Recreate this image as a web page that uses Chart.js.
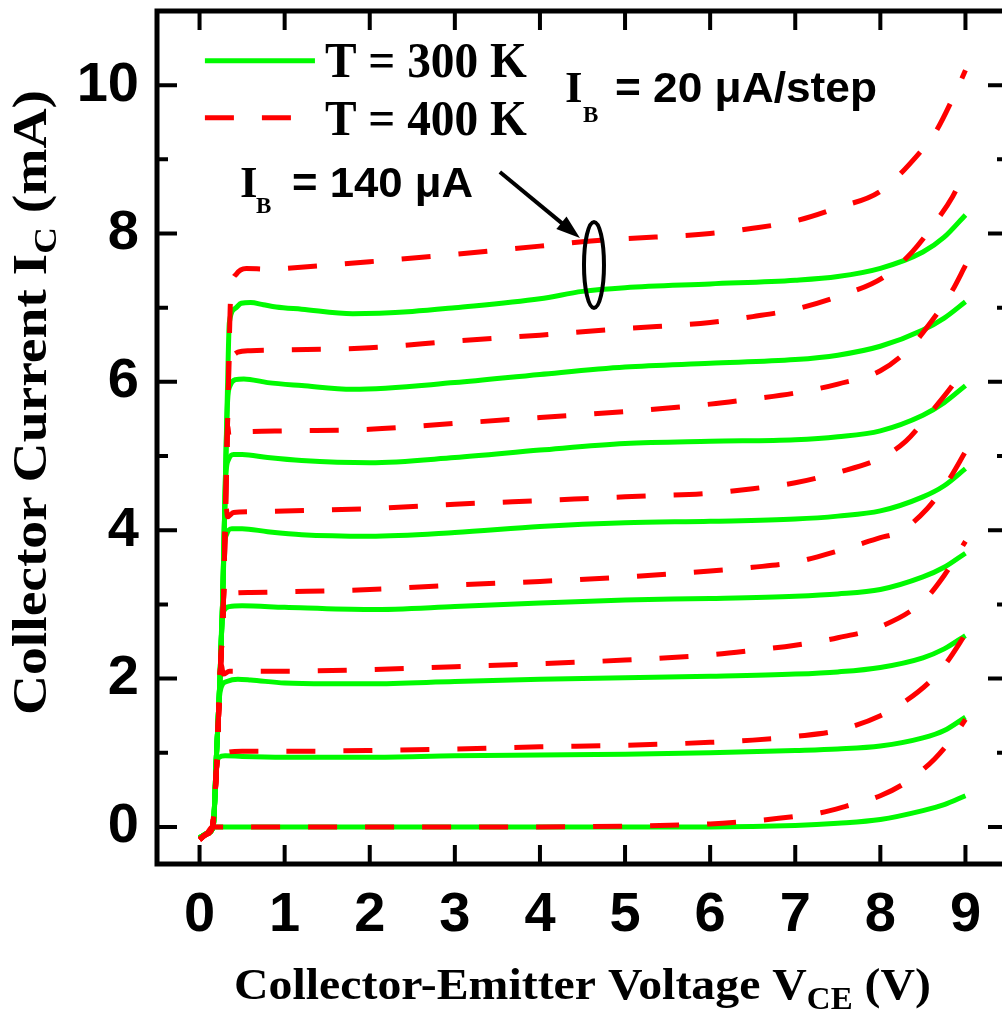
<!DOCTYPE html>
<html>
<head>
<meta charset="utf-8">
<script src="https://cdn.jsdelivr.net/npm/chart.js@4.4.1/dist/chart.umd.min.js"></script>
<style>
  html, body { margin: 0; padding: 0; overflow: hidden; background: #fff; }
  #chart { display: block; }
</style>
</head>
<body>
<canvas id="chart" width="1010" height="1010"></canvas>
<script>
// tick values
const xTicks = [0, 1, 2, 3, 4, 5, 6, 7, 8, 9];
const yTicks = [0, 1, 2, 3, 4, 5, 6, 7, 8, 9, 10];

// base current of each curve (uA), 20 uA/step
const ibSteps = [0, 20, 40, 60, 80, 100, 120, 140];

// T = 300 K, [V_CE (V), I_C (mA)]
const g0 = [[0,-0.15],[0.1,-0.08],[0.16,0],[0.5,0],[2,0],[4,0],[6,0],[7,0.02],[7.5,0.05],[8,0.1],[8.5,0.22],[8.75,0.3],[9,0.42]];
const g20 = [[0,-0.15],[0.1,-0.08],[0.16,0],[0.2,0.8],[0.23,0.94],[0.3,0.96],[0.5,0.95],[1,0.94],[2,0.94],[3,0.96],[4,0.97],[5,0.98],[6,1.0],[7,1.03],[7.5,1.05],[8,1.09],[8.5,1.2],[8.75,1.3],[9,1.48]];
const g40 = [[0,-0.15],[0.1,-0.08],[0.16,0],[0.2,1],[0.23,1.7],[0.26,1.9],[0.32,1.96],[0.45,1.99],[0.6,1.98],[1,1.94],[1.5,1.93],[2,1.93],[3,1.96],[4,1.99],[5,2.01],[6,2.03],[7,2.06],[7.5,2.09],[8,2.15],[8.5,2.28],[8.75,2.4],[9,2.58]];
const g60 = [[0,-0.15],[0.1,-0.08],[0.16,0],[0.2,1],[0.24,2],[0.26,2.7],[0.29,2.92],[0.35,2.97],[0.5,2.98],[1,2.96],[2,2.93],[3,2.97],[4,3.02],[5,3.06],[6,3.08],[7,3.11],[7.5,3.14],[8,3.2],[8.5,3.37],[8.75,3.5],[9,3.69]];
const g80 = [[0,-0.15],[0.1,-0.08],[0.16,0],[0.2,1],[0.24,2],[0.27,3],[0.29,3.75],[0.32,3.95],[0.38,4.02],[0.5,4.02],[0.8,3.98],[1.2,3.94],[2,3.92],[3,3.97],[4,4.05],[5,4.1],[6,4.12],[7,4.15],[7.5,4.19],[8,4.26],[8.5,4.45],[8.75,4.6],[9,4.83]];
const g100 = [[0,-0.15],[0.1,-0.08],[0.16,0],[0.2,1],[0.24,2],[0.27,3],[0.29,4],[0.31,4.75],[0.34,4.95],[0.4,5.02],[0.5,5.02],[0.8,4.98],[1.2,4.94],[2,4.91],[3,4.98],[4,5.08],[5,5.17],[6,5.2],[7,5.22],[7.5,5.26],[8,5.34],[8.5,5.55],[8.75,5.72],[9,5.95]];
const g120 = [[0,-0.15],[0.1,-0.08],[0.16,0],[0.2,1],[0.24,2],[0.27,3],[0.29,4],[0.31,5],[0.33,5.75],[0.36,5.95],[0.42,6.03],[0.52,6.04],[0.8,5.99],[1.2,5.95],[1.8,5.9],[3,5.99],[4,6.1],[5,6.2],[6,6.25],[7,6.3],[7.5,6.36],[8,6.48],[8.5,6.7],[8.75,6.86],[9,7.08]];
const g140 = [[0,-0.15],[0.1,-0.08],[0.16,0],[0.2,1],[0.24,2],[0.27,3],[0.29,4],[0.31,5],[0.33,6],[0.35,6.8],[0.42,6.99],[0.49,7.06],[0.6,7.07],[0.75,7.04],[0.9,7.01],[1.2,6.98],[1.8,6.92],[2.5,6.95],[3,7.0],[4,7.12],[4.5,7.22],[5,7.27],[6,7.32],[7,7.37],[7.5,7.42],[8,7.53],[8.5,7.75],[8.75,7.95],[9,8.25]];

// T = 400 K
const r0 = [[0,-0.17],[0.08,-0.1],[0.15,0],[0.5,0],[2,0],[4,0],[5,0.01],[6,0.04],[6.5,0.08],[7,0.14],[7.3,0.19],[7.6,0.28],[8,0.42],[8.3,0.6],[8.64,0.92],[8.9,1.28],[9,1.45]];
const r20 = [[0,-0.17],[0.08,-0.1],[0.15,0],[0.2,0.8],[0.22,1.06],[0.25,0.97],[0.3,1.0],[0.5,1.02],[1,1.02],[2,1.03],[3,1.05],[4,1.08],[5,1.1],[6,1.14],[6.5,1.17],[7,1.22],[7.5,1.3],[8,1.5],[8.3,1.7],[8.6,1.98],[8.8,2.25],[9,2.6]];
const r40 = [[0,-0.17],[0.08,-0.1],[0.15,0],[0.2,0.8],[0.24,2],[0.255,2.18],[0.28,2.06],[0.35,2.1],[0.6,2.1],[1,2.1],[2,2.12],[3,2.16],[4,2.2],[5,2.25],[6,2.32],[6.5,2.38],[7,2.45],[7.5,2.55],[8,2.7],[8.5,3.04],[8.75,3.39],[9,3.85]];
const r60 = [[0,-0.17],[0.08,-0.1],[0.15,0],[0.2,0.8],[0.24,2],[0.28,3],[0.29,3.25],[0.31,3.1],[0.38,3.15],[0.6,3.16],[1,3.17],[2,3.2],[3,3.26],[4,3.31],[5,3.37],[6,3.45],[6.5,3.5],[7,3.57],[7.5,3.72],[8,3.9],[8.23,3.98],[8.55,4.29],[8.8,4.67],[9,5.06]];
const r80 = [[0,-0.17],[0.08,-0.1],[0.15,0],[0.2,0.8],[0.24,2],[0.28,3],[0.3,4],[0.31,4.32],[0.33,4.18],[0.4,4.24],[0.6,4.25],[1,4.26],[2,4.29],[3,4.35],[4,4.4],[5,4.45],[6,4.5],[6.5,4.56],[7,4.64],[7.5,4.78],[8,4.97],[8.3,5.2],[8.58,5.57],[8.84,5.94],[9,6.2]];
const r100 = [[0,-0.17],[0.08,-0.1],[0.15,0],[0.2,0.8],[0.24,2],[0.28,3],[0.3,4],[0.32,5],[0.33,5.4],[0.35,5.25],[0.42,5.31],[0.6,5.33],[1,5.34],[2,5.36],[3,5.44],[4,5.52],[5,5.6],[6,5.7],[6.5,5.77],[7,5.85],[7.5,5.97],[8,6.15],[8.34,6.45],[8.61,6.83],[8.84,7.22],[9,7.57]];
const r120 = [[0,-0.17],[0.08,-0.1],[0.15,0],[0.2,0.8],[0.24,2],[0.28,3],[0.3,4],[0.32,5],[0.34,6],[0.35,6.47],[0.37,6.35],[0.45,6.4],[0.6,6.42],[1,6.43],[2,6.46],[3,6.55],[4,6.63],[5,6.72],[6,6.8],[6.5,6.88],[7,6.98],[7.5,7.15],[8.05,7.42],[8.38,7.76],[8.64,8.14],[8.85,8.5],[9,8.85]];
const r140 = [[0,-0.17],[0.08,-0.1],[0.15,0],[0.2,0.8],[0.24,2],[0.28,3],[0.3,4],[0.32,5],[0.34,6],[0.36,7],[0.38,7.3],[0.43,7.45],[0.55,7.53],[0.8,7.52],[1,7.53],[2,7.62],[3,7.72],[4,7.83],[4.6,7.9],[5,7.93],[6,8.0],[6.5,8.07],[7,8.17],[7.5,8.35],[8,8.57],[8.44,9.06],[8.66,9.39],[8.85,9.82],[9,10.2]];

const curves300 = [g0, g20, g40, g60, g80, g100, g120, g140];
const curves400 = [r0, r20, r40, r60, r80, r100, r120, r140];

const GREEN = 'rgb(0,250,0)';
const RED = 'rgb(255,0,0)';
const DASH = [29, 28];
const SERIF = '"Liberation Serif", "Times New Roman", serif';
const SANS = '"Liberation Sans", Arial, sans-serif';

const toXY = (pts) => pts.map(p => ({ x: p[0], y: p[1] }));

const datasets = [];
curves300.forEach((c, i) => {
  datasets.push({
    label: 'T = 300 K, IB = ' + ibSteps[i] + ' uA',
    data: toXY(c),
    borderColor: GREEN,
    borderWidth: 5,
    order: 1
  });
});
curves400.forEach((c, i) => {
  datasets.push({
    label: 'T = 400 K, IB = ' + ibSteps[i] + ' uA',
    data: toXY(c),
    borderColor: RED,
    borderWidth: 5,
    borderDash: DASH,
    order: 0
  });
});

// draws a row of text runs (for subscripts), stretched to a given width
function drawRuns(ctx, runs, width) {
  let total = 0;
  runs.forEach(r => {
    ctx.font = r.font;
    r.w = ctx.measureText(r.text).width;
    total += r.w;
  });
  const k = width ? width / total : 1;
  ctx.save();
  ctx.scale(k, 1);
  let cx = 0;
  runs.forEach(r => {
    ctx.font = r.font;
    ctx.fillText(r.text, cx, r.dy || 0);
    cx += r.w;
  });
  ctx.restore();
}

const framePlugin = {
  id: 'frame',
  afterDatasetsDraw(chart) {
    const { ctx, chartArea: a, scales: { x, y } } = chart;
    ctx.save();
    ctx.strokeStyle = '#000';
    ctx.lineWidth = 5;
    ctx.strokeRect(a.left, a.top, a.right - a.left, a.bottom - a.top);
    ctx.lineWidth = 4;
    ctx.beginPath();
    xTicks.forEach(v => {
      const px = x.getPixelForValue(v);
      ctx.moveTo(px, a.bottom); ctx.lineTo(px, a.bottom - 19);
      ctx.moveTo(px, a.top); ctx.lineTo(px, a.top + 19);
    });
    yTicks.forEach(v => {
      const py = y.getPixelForValue(v);
      const len = v % 2 === 0 ? 20 : 11;
      ctx.moveTo(a.left, py); ctx.lineTo(a.left + len, py);
      ctx.moveTo(a.right, py); ctx.lineTo(a.right - len, py);
    });
    ctx.stroke();
    ctx.restore();
  }
};

const textPlugin = {
  id: 'texts',
  afterDraw(chart) {
    const { ctx, scales: { x, y } } = chart;
    const px = v => x.getPixelForValue(v);
    const py = v => y.getPixelForValue(v);
    ctx.save();
    ctx.fillStyle = '#000';
    ctx.textBaseline = 'alphabetic';
    ctx.textAlign = 'left';

    // legend
    ctx.lineWidth = 5;
    ctx.strokeStyle = GREEN;
    ctx.beginPath();
    ctx.moveTo(px(0.063), py(10.33)); ctx.lineTo(px(1.356), py(10.33));
    ctx.stroke();
    ctx.strokeStyle = RED;
    ctx.setLineDash(DASH);
    ctx.beginPath();
    ctx.moveTo(px(0.063), py(9.56)); ctx.lineTo(px(1.356), py(9.56));
    ctx.stroke();
    ctx.setLineDash([]);

    ctx.save();
    ctx.translate(px(1.473), py(10.11));
    drawRuns(ctx, [{ text: 'T = 300 K', font: `bold 50px ${SERIF}` }], 202);
    ctx.restore();
    ctx.save();
    ctx.translate(px(1.473), py(9.33));
    drawRuns(ctx, [{ text: 'T = 400 K', font: `bold 50px ${SERIF}` }], 202);
    ctx.restore();

    // I_B = 20 uA/step
    ctx.font = `bold 45px ${SERIF}`;
    ctx.fillText('I', px(4.294), py(9.773));
    ctx.font = `bold 23px ${SERIF}`;
    ctx.fillText('B', px(4.505), py(9.504));
    ctx.save();
    ctx.translate(px(4.881), py(9.773));
    drawRuns(ctx, [{ text: '= 20 μA/step', font: `bold 43px ${SANS}` }], 262);
    ctx.restore();

    // I_B = 140 uA
    ctx.font = `bold 45px ${SERIF}`;
    ctx.fillText('I', px(0.475), py(8.49));
    ctx.font = `bold 23px ${SERIF}`;
    ctx.fillText('B', px(0.663), py(8.28));
    ctx.save();
    ctx.translate(px(1.086), py(8.49));
    drawRuns(ctx, [{ text: '= 140 μA', font: `bold 43px ${SANS}` }], 181);
    ctx.restore();

    // arrow towards the 140 uA pair
    const x0 = px(3.529), y0 = py(8.83), x1 = px(4.47), y1 = py(7.939);
    const ang = Math.atan2(y1 - y0, x1 - x0);
    ctx.strokeStyle = '#000';
    ctx.lineWidth = 4;
    ctx.beginPath();
    ctx.moveTo(x0, y0);
    ctx.lineTo(x1 - 18 * Math.cos(ang), y1 - 18 * Math.sin(ang));
    ctx.stroke();
    ctx.beginPath();
    ctx.moveTo(x1, y1);
    ctx.lineTo(x1 - 24 * Math.cos(ang) + 8 * Math.sin(ang), y1 - 24 * Math.sin(ang) - 8 * Math.cos(ang));
    ctx.lineTo(x1 - 24 * Math.cos(ang) - 8 * Math.sin(ang), y1 - 24 * Math.sin(ang) + 8 * Math.cos(ang));
    ctx.closePath();
    ctx.fill();

    // ellipse
    ctx.beginPath();
    ctx.ellipse(px(4.635), py(7.576), 10, 43, 0, 0, Math.PI * 2);
    ctx.stroke();

    // x axis title
    ctx.save();
    ctx.translate(234, 999);
    drawRuns(ctx, [
      { text: 'Collector-Emitter Voltage V', font: `bold 45px ${SERIF}` },
      { text: 'CE', font: `bold 31px ${SERIF}`, dy: 10 },
      { text: ' (V)', font: `bold 45px ${SERIF}` }
    ], 697);
    ctx.restore();

    // y axis title
    ctx.save();
    ctx.translate(46, 715);
    ctx.rotate(-Math.PI / 2);
    drawRuns(ctx, [
      { text: 'Collector Current I', font: `bold 48px ${SERIF}` },
      { text: 'C', font: `bold 32px ${SERIF}`, dy: 10 },
      { text: ' (mA)', font: `bold 48px ${SERIF}` }
    ], 625);
    ctx.restore();

    ctx.restore();
  }
};

const tickFont = { family: SANS, size: 56, weight: 'bold' };

new Chart(document.getElementById('chart'), {
  type: 'line',
  data: { datasets },
  options: {
    responsive: false,
    animation: false,
    events: [],
    layout: { padding: { top: 11, right: 2, left: 0, bottom: 0 } },
    elements: {
      point: { radius: 0 },
      line: { cubicInterpolationMode: 'monotone' }
    },
    plugins: {
      legend: { display: false },
      tooltip: { enabled: false }
    },
    scales: {
      x: {
        type: 'linear',
        min: -0.5,
        max: 9.5,
        grid: { display: false, drawTicks: false },
        border: { display: false },
        afterBuildTicks: s => { s.ticks = xTicks.map(v => ({ value: v })); },
        afterFit: s => { s.height = 146; s.paddingLeft = 0; s.paddingRight = 0; },
        ticks: {
          padding: 18,
          color: '#000',
          font: tickFont,
          autoSkip: false,
          maxRotation: 0,
          callback: v => v
        }
      },
      y: {
        type: 'linear',
        min: -0.5,
        max: 11,
        grid: { display: false, drawTicks: false },
        border: { display: false },
        afterBuildTicks: s => { s.ticks = yTicks.map(v => ({ value: v })); },
        afterFit: s => { s.width = 157; s.paddingTop = 0; s.paddingBottom = 0; },
        ticks: {
          padding: 18,
          color: '#000',
          font: tickFont,
          autoSkip: false,
          callback: v => (v % 2 === 0 ? v : '')
        }
      }
    }
  },
  plugins: [framePlugin, textPlugin]
});
</script>
</body>
</html>
